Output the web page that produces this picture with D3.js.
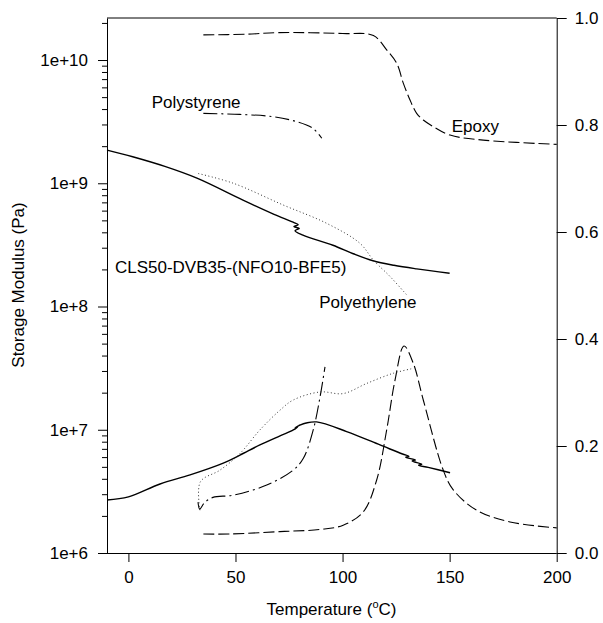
<!DOCTYPE html>
<html><head><meta charset="utf-8">
<script src="https://cdn.jsdelivr.net/npm/d3@7"></script>
<style>
body{margin:0;background:#fff;}
text{font-family:"Liberation Sans",Arial,sans-serif;}
</style></head>
<body><svg id="c" width="603" height="623"></svg>
<script>
// ---- data: [temperature °C, value] ----
const xTicks = [0, 50, 100, 150, 200];
const modTicks = [1e6, 1e7, 1e8, 1e9, 1e10];
const tanTicks = [0, 0.2, 0.4, 0.6, 0.8, 1.0];

// storage modulus (Pa), left log axis
const clsMod = [[-10,1.86e9],[2,1.64e9],[17,1.37e9],[32,1.10e9],[53.5,7.3e8],[68,5.6e8],[76.9,4.83e8],[79.3,4.6e8],[77.3,4.45e8],[79.8,4.3e8],[77.8,4.12e8],[81.5,3.79e8],[95.5,3.14e8],[105,2.68e8],[114.2,2.35e8],[124,2.16e8],[134.6,2.02e8],[150,1.86e8]];
const psMod = [[35,3.69e9],[52,3.62e9],[67.5,3.47e9],[78.6,3.16e9],[86.2,2.79e9],[90.3,2.32e9]];
const epMod = [[35,1.60e10],[55,1.62e10],[70,1.67e10],[100,1.64e10],[114.4,1.58e10],[120.6,1.21e10],[125.3,9.4e9],[128.4,6.47e9],[131.5,4.74e9],[134.6,3.69e9],[137.7,3.26e9],[142.4,2.88e9],[150.2,2.46e9],[165.7,2.24e9],[200,2.07e9]];
const peMod = [[32.6,1.2e9],[49,1.0e9],[72.3,6.66e8],[92.6,4.73e8],[108.1,3.26e8],[114.4,2.38e8],[122.2,1.75e8],[130,1.24e8]];

// tan delta, right linear axis
const clsTan = [[-10,0.099],[0,0.105],[14.75,0.129],[28.8,0.146],[44.3,0.168],[52.1,0.183],[61.4,0.202],[70.8,0.219],[77,0.230],[79,0.236],[77.8,0.234],[80.5,0.240],[79.3,0.238],[83,0.243],[87.9,0.245],[101.9,0.227],[117.5,0.202],[128,0.185],[131,0.181],[129.5,0.179],[134,0.174],[132.5,0.172],[137,0.166],[135.5,0.164],[140,0.160],[150.2,0.150]];
const psTan = [[32.5,0.095],[33.3,0.082],[35.5,0.094],[39.5,0.104],[49,0.108],[64.6,0.127],[77,0.155],[81.7,0.177],[86.3,0.230],[89.5,0.292],[91.8,0.348]];
const epTan = [[35,0.0355],[47.4,0.0355],[70.8,0.040],[89.5,0.044],[100.3,0.052],[109.7,0.077],[115.9,0.136],[120.6,0.230],[124.5,0.323],[128.7,0.387],[133,0.355],[137.7,0.286],[147,0.155],[151.7,0.118],[162.6,0.080],[178.2,0.058],[200,0.047]];
const peTan = [[33.4,0.080],[33.6,0.133],[42.8,0.155],[52.1,0.186],[61.4,0.230],[70.8,0.267],[77,0.286],[89.5,0.301],[100.3,0.298],[111.3,0.317],[123.7,0.336],[133,0.345]];

const labels = [
  {text:"Polystyrene", t:10.9, v:Math.pow(10,9.61)},
  {text:"Epoxy", t:151, v:Math.pow(10,9.418)},
  {text:"CLS50-DVB35-(NFO10-BFE5)", t:-6.3, v:Math.pow(10,8.269)},
  {text:"Polyethylene", t:89.1, v:Math.pow(10,7.988)}
];

// ---- layout ----
const L = 107, R = 556.7, T = 18, B = 553;
const svg = d3.select("#c");
const x = d3.scaleLinear().domain([-10, 200]).range([L, R]);
const yL = d3.scaleLog().domain([1e6, Math.pow(10, 10.341)]).range([B, T]);
const yR = d3.scaleLinear().domain([0, 1]).range([B, T]);
const FS = "17px";

function styleAxis(g){
  g.attr("font-size", FS).attr("font-family", '"Liberation Sans",Arial,sans-serif');
  g.selectAll("line").attr("stroke", "#000");
  g.selectAll("path.domain").attr("stroke", "#000");
  g.selectAll("text").attr("fill", "#000");
}

// top border
svg.append("line").attr("x1", L).attr("x2", R).attr("y1", T).attr("y2", T).attr("stroke", "#000");

// left axis major + minor
const minor = [];
for (let e = 6; e <= 10; e++) for (let m = 2; m <= 9; m++) { const v = m * Math.pow(10, e); if (v <= yL.domain()[1]) minor.push(v); }
svg.append("g").attr("transform", `translate(${L},0)`)
  .call(d3.axisLeft(yL).tickValues(minor).tickSize(5).tickSizeOuter(0).tickFormat(""))
  .call(styleAxis).call(g => g.select(".domain").remove());
svg.append("g").attr("transform", `translate(${L},0)`)
  .call(d3.axisLeft(yL).tickValues(modTicks).tickSize(9).tickSizeOuter(0).tickPadding(10)
    .tickFormat(d => "1e+" + Math.round(Math.log10(d))))
  .call(styleAxis);

// right axis
svg.append("g").attr("transform", `translate(${R},0)`)
  .call(d3.axisRight(yR).tickValues(tanTicks).tickSize(10).tickSizeOuter(0).tickPadding(8).tickFormat(d3.format(".1f")))
  .call(styleAxis);

// bottom axis
svg.append("g").attr("transform", `translate(0,${B})`)
  .call(d3.axisBottom(x).tickValues(xTicks).tickSize(9).tickSizeOuter(0).tickPadding(9))
  .call(styleAxis)
  .call(g => g.select(".domain").attr("d", `M${L - 9},0.5H${R}`));

// lines
const lineMod = d3.line().x(d => x(d[0])).y(d => yL(d[1]));
const lineTan = d3.line().x(d => x(d[0])).y(d => yR(d[1]));
const smooth = d3.curveCatmullRom.alpha(0.5);

const series = [
  {data: clsMod, gen: lineMod, dash: null, w: 1.4, c: "#000"},
  {data: psMod, gen: lineMod, dash: "14,4,2,4", w: 1.1, c: "#000"},
  {data: epMod, gen: lineMod, dash: "11,4", w: 1.1, c: "#000"},
  {data: peMod, gen: lineMod, dash: "1,2.5", w: 1, c: "#333"},
  {data: clsTan, gen: lineTan, dash: null, w: 1.4, c: "#000"},
  {data: psTan, gen: lineTan, dash: "14,4,2,4", w: 1.1, c: "#000"},
  {data: epTan, gen: lineTan, dash: "11,4", w: 1.1, c: "#000"},
  {data: peTan, gen: lineTan, dash: "1,2.5", w: 1, c: "#333"}
];
series.forEach(s => {
  svg.append("path").attr("d", s.gen.curve(smooth)(s.data))
    .attr("fill", "none").attr("stroke", s.c).attr("stroke-width", s.w)
    .attr("stroke-dasharray", s.dash);
});

// series labels
labels.forEach(l => {
  svg.append("text").attr("x", x(l.t)).attr("y", yL(l.v))
    .attr("font-size", FS).attr("fill", "#000").text(l.text);
});

// axis titles
svg.append("text").attr("transform", "translate(24,285) rotate(-90)")
  .attr("text-anchor", "middle").attr("font-size", FS).attr("fill", "#000")
  .text("Storage Modulus (Pa)");
const xt = svg.append("text").attr("x", 331.5).attr("y", 615)
  .attr("text-anchor", "middle").attr("font-size", FS).attr("fill", "#000");
xt.append("tspan").text("Temperature (");
xt.append("tspan").attr("font-size", "11px").attr("dy", "-7").text("o");
xt.append("tspan").attr("dy", "7").text("C)");
</script></body></html>
